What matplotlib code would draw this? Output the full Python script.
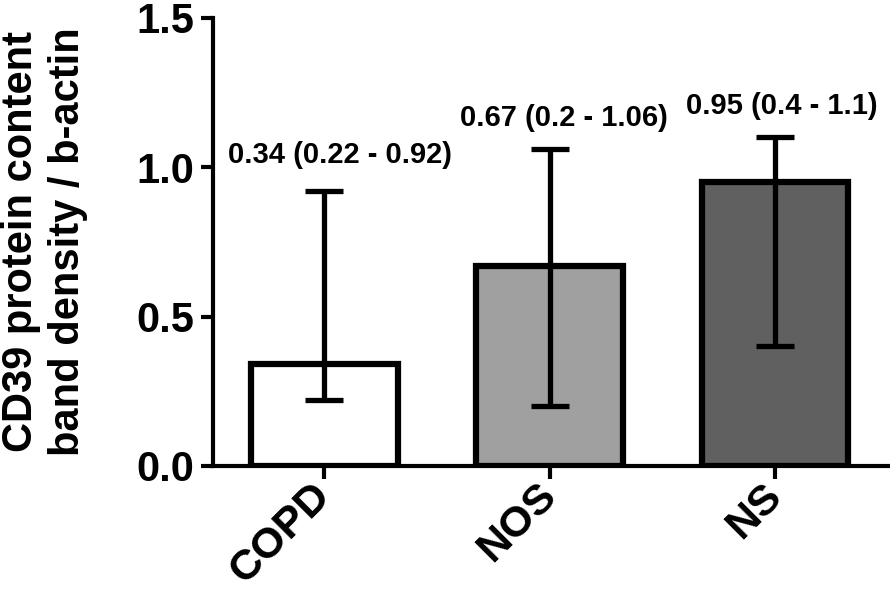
import matplotlib
matplotlib.use("Agg")
import matplotlib.pyplot as plt
import numpy as np

categories = ["COPD", "NOS", "NS"]
medians = [0.34, 0.67, 0.95]
lower = [0.22, 0.20, 0.40]
upper = [0.92, 1.06, 1.10]
labels = ["0.34 (0.22 - 0.92)", "0.67 (0.2 - 1.06)", "0.95 (0.4 - 1.1)"]
colors = ["#ffffff", "#a0a0a0", "#606060"]
yticks = [0.0, 0.5, 1.0, 1.5]

plt.rcParams['font.family'] = ['Liberation Sans', 'DejaVu Sans']
plt.rcParams['font.weight'] = 'bold'

fig = plt.figure(figsize=(8.9, 5.94), dpi=100)
ax = fig.add_axes([0.239, 0.2155, 0.761, 0.7545])

x = np.arange(len(categories))
ax.bar(x, medians, width=0.65, color=colors, edgecolor="black", linewidth=4.5, zorder=2)
med = np.array(medians)
yerr = np.vstack([med - np.array(lower), np.array(upper) - med])
ax.errorbar(x, medians, yerr=yerr, fmt='none', ecolor='black', elinewidth=3.8,
            capsize=13.5, capthick=3.8, zorder=3)

label_offsets = [(11.5, 16), (10, 12.5), (5, 12.5)]
for xi, up, lab, off in zip(x, upper, labels, label_offsets):
    ax.annotate(lab, (xi, up), xytext=off, textcoords='offset points',
                ha='center', va='bottom', fontsize=21, fontweight='bold')

ax.set_xlim(-0.495, 2.51)
ax.set_ylim(0, 1.5)
ax.set_yticks(yticks)
ax.set_yticklabels([f"{v:.1f}" for v in yticks], fontsize=30, fontweight='bold')
ax.set_xticks(x)
ax.set_xticklabels(categories, fontsize=31, fontweight='bold', rotation=45,
                   ha='right', va='center', rotation_mode='anchor')

for s in ['top', 'right']:
    ax.spines[s].set_visible(False)
for s in ['left', 'bottom']:
    ax.spines[s].set_linewidth(3)
ax.tick_params(axis='both', which='major', length=9, width=3, direction='out')
ax.tick_params(axis='y', pad=4)
ax.tick_params(axis='x', pad=8)

ax.set_ylabel("CD39 protein content\nband density / b-actin", fontsize=30,
              fontweight='bold', linespacing=1.22)
ax.yaxis.set_label_coords(-0.184, 0.5)

fig.savefig("out.png", dpi=100)
